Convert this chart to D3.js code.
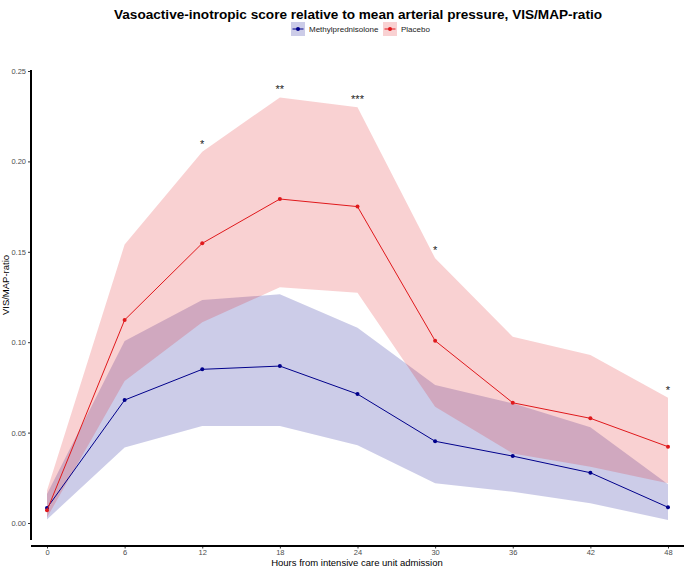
<!DOCTYPE html>
<html>
<head>
<meta charset="utf-8">
<script src="https://cdn.jsdelivr.net/npm/d3@7"></script>
<style>
html,body{margin:0;padding:0;background:#fff;}
svg{display:block;font-family:"Liberation Sans",Arial,Helvetica,sans-serif;}
</style>
</head>
<body>
<svg id="chart" width="685" height="567"></svg>
<script>
// ---- data ----
const hours = [0, 6, 12, 18, 24, 30, 36, 42, 48];
const mpMean  = [0.0083, 0.0680, 0.0850, 0.0868, 0.0713, 0.0452, 0.0370, 0.0278, 0.0087];
const mpLower = [0.0020, 0.0417, 0.0536, 0.0537, 0.0430, 0.0220, 0.0173, 0.0109, 0.0017];
const mpUpper = [0.0160, 0.1007, 0.1233, 0.1265, 0.1080, 0.0763, 0.0662, 0.0529, 0.0215];
const plMean  = [0.0070, 0.1123, 0.1547, 0.1792, 0.1750, 0.1008, 0.0665, 0.0579, 0.0422];
const plLower = [0.0030, 0.0785, 0.1110, 0.1304, 0.1274, 0.0643, 0.0385, 0.0311, 0.0220];
const plUpper = [0.0180, 0.1540, 0.2054, 0.2354, 0.2299, 0.1464, 0.1030, 0.0929, 0.0693];
const signif  = ["", "", "*", "**", "***", "*", "", "", "*"];
const yTicks  = [0.00, 0.05, 0.10, 0.15, 0.20, 0.25];
const xTicks  = [0, 6, 12, 18, 24, 30, 36, 42, 48];
const seriesNames = ["Methylprednisolone", "Placebo"];
const seriesColors = ["#00008b", "#e0191c"];

const svg = d3.select("#chart");
const x = d3.scaleLinear().domain([0, 48]).range([47, 668]);
const y = d3.scaleLinear().domain([0, 0.25]).range([523, 71]);

const series = [
  {name: seriesNames[0], color: seriesColors[0], mean: mpMean, lo: mpLower, hi: mpUpper},
  {name: seriesNames[1], color: seriesColors[1], mean: plMean, lo: plLower, hi: plUpper}
];

// ribbons
const area = d3.area().x(d => x(d.h)).y0(d => y(d.lo)).y1(d => y(d.hi));
series.forEach(s => {
  const pts = hours.map((h, i) => ({h, lo: s.lo[i], hi: s.hi[i]}));
  svg.append("path").attr("d", area(pts)).attr("fill", s.color).attr("fill-opacity", 0.2);
});
// lines & points
const line = d3.line().x(d => x(d.h)).y(d => y(d.v));
series.forEach(s => {
  const pts = hours.map((h, i) => ({h, v: s.mean[i]}));
  svg.append("path").attr("d", line(pts)).attr("fill", "none").attr("stroke", s.color).attr("stroke-width", 1);
  svg.selectAll(null).data(pts).enter().append("circle")
    .attr("cx", d => x(d.h)).attr("cy", d => y(d.v)).attr("r", 2).attr("fill", s.color);
});

// significance stars
svg.selectAll(null).data(hours.map((h, i) => ({h, s: signif[i], v: plUpper[i]})).filter(d => d.s))
  .enter().append("text")
  .attr("x", d => x(d.h)).attr("y", d => y(d.v) - 4)
  .attr("text-anchor", "middle").attr("font-size", 11).attr("fill", "#222")
  .text(d => d.s);

// axes
const yAxis = svg.append("g").attr("transform", "translate(31,0)")
  .call(d3.axisLeft(y).tickValues(yTicks).tickFormat(d3.format(".2f")).tickSize(3).tickPadding(2));
yAxis.select(".domain").remove();
yAxis.selectAll(".tick line").attr("stroke", "#333");
yAxis.selectAll(".tick text").attr("fill", "#4d4d4d").attr("font-size", 7.5).attr("font-family", null);
svg.append("line").attr("x1", 31).attr("x2", 31).attr("y1", 70).attr("y2", 540)
  .attr("stroke", "#000").attr("stroke-width", 2);

const xAxis = svg.append("g").attr("transform", "translate(0,546)")
  .call(d3.axisBottom(x).tickValues(xTicks).tickSize(2.5).tickPadding(1.5));
xAxis.select(".domain").remove();
xAxis.selectAll(".tick line").attr("stroke", "#333");
xAxis.selectAll(".tick text").attr("fill", "#4d4d4d").attr("font-size", 7.5).attr("font-family", null);
svg.append("line").attr("x1", 31).attr("x2", 684).attr("y1", 546).attr("y2", 546)
  .attr("stroke", "#000").attr("stroke-width", 2);

// axis titles
svg.append("text").attr("x", 357).attr("y", 566).attr("text-anchor", "middle")
  .attr("font-size", 9.5).attr("fill", "#000").text("Hours from intensive care unit admission");
svg.append("text").attr("transform", "translate(8.5,285) rotate(-90)").attr("text-anchor", "middle")
  .attr("font-size", 9.5).attr("fill", "#000").text("VIS/MAP-ratio");

// title
svg.append("text").attr("x", 358).attr("y", 19).attr("text-anchor", "middle")
  .attr("font-size", 13.6).attr("font-weight", "bold").attr("fill", "#000")
  .text("Vasoactive-inotropic score relative to mean arterial pressure, VIS/MAP-ratio");

// legend
const legX = [291, 383];
series.forEach((s, i) => {
  const g = svg.append("g").attr("transform", `translate(${legX[i]},22)`);
  g.append("rect").attr("width", 14).attr("height", 14).attr("fill", s.color).attr("fill-opacity", 0.2);
  g.append("line").attr("x1", 1.5).attr("x2", 12.5).attr("y1", 7).attr("y2", 7).attr("stroke", s.color).attr("stroke-width", 1);
  g.append("circle").attr("cx", 7).attr("cy", 7).attr("r", 2).attr("fill", s.color);
  g.append("text").attr("x", 18).attr("y", 10).attr("font-size", 8).attr("fill", "#222").text(s.name);
});
</script>
</body>
</html>
